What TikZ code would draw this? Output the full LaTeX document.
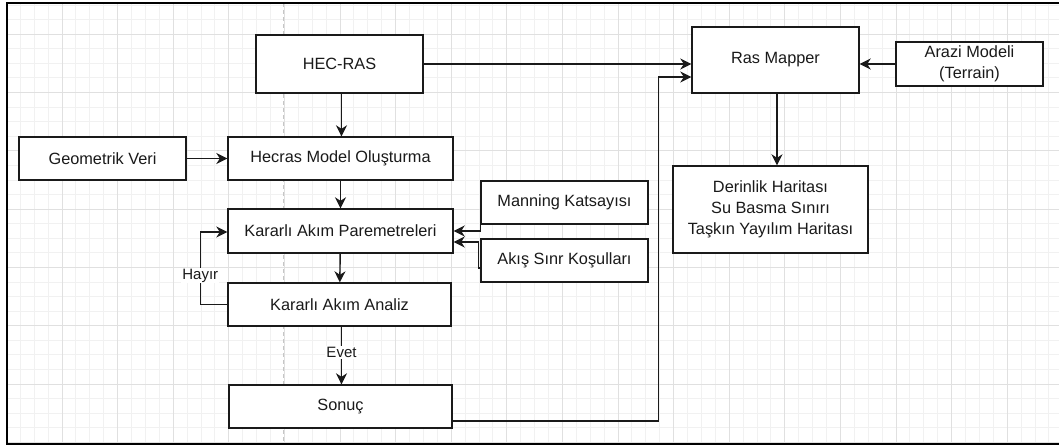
\documentclass[tikz,border=0pt]{standalone}
\usepackage{fontspec}
\setmainfont{Liberation Sans}
\usepackage{tikz}
\usetikzlibrary{positioning,arrows.meta,calc}
\definecolor{izgara}{HTML}{F1F1F1}
\definecolor{anaizgara}{HTML}{E0E0E0}
\definecolor{cizgi}{HTML}{1A1A1A}

\begin{document}
\begin{tikzpicture}[x=1pt,y=-1pt,
    kutu/.style={draw=cizgi,line width=1.4pt,fill=white,align=center,inner sep=0pt,
        text=cizgi,font=\fontsize{16.3pt}{21pt}\selectfont},
    ok/.style={-{Stealth[length=11pt,width=11pt,inset=3.5pt]},line width=1.4pt,draw=cizgi},
    etiket/.style={fill=white,inner sep=1pt,text=cizgi,font=\fontsize{15pt}{18pt}\selectfont}]
    \useasboundingbox (0,0) rectangle (1059,447);
    % Arka plan
    \fill[white] (0,0) rectangle (1059,447);
    \foreach \i in {0,...,75}
        \draw[izgara,line width=0.8pt] ({6.3+13.9*\i},3) -- ({6.3+13.9*\i},444);
    \foreach \j in {0,...,30}
        \draw[izgara,line width=0.8pt] (7,{4.94+14.58*\j}) -- (1059,{4.94+14.58*\j});
    \foreach \i in {0,...,18}
        \draw[anaizgara,line width=0.8pt] ({6.3+55.6*\i},3) -- ({6.3+55.6*\i},444);
    \foreach \j in {0,...,7}
        \draw[anaizgara,line width=0.8pt] (7,{34.1+58.3*\j}) -- (1059,{34.1+58.3*\j});
    \draw[gray!45,line width=0.8pt,dash pattern=on 4pt off 3pt] (283.5,3) -- (283.5,444);
    \draw[black,line width=1.8pt] (7,3) rectangle (1062,444);

    % Kutular
    \node[kutu,minimum width=167pt,minimum height=58pt] (hecras) at (339.5,64) {HEC-RAS};
    \node[kutu,minimum width=167pt,minimum height=43pt] (geo) at (102.5,158.5) {Geometrik Veri};
    \node[kutu,minimum width=225pt,minimum height=43pt] (model) at (340.5,158.5) {Hecras Model Oluşturma};
    \node[kutu,minimum width=225pt,minimum height=44pt] (param) at (340.5,231) {Kararlı Akım Paremetreleri};
    \node[kutu,minimum width=223pt,minimum height=43pt] (analiz) at (339.5,304.5) {Kararlı Akım Analiz};
    \node[kutu,minimum width=223pt,minimum height=43pt] (sonuc) at (340.5,406.5) {Sonuç};
    \node[kutu,minimum width=167pt,minimum height=43pt] (manning) at (564.5,202.5) {Manning Katsayısı};
    \node[kutu,minimum width=167pt,minimum height=43pt] (akis) at (564.5,260.5) {Akış Sınr Koşulları};
    \node[kutu,minimum width=167pt,minimum height=66pt] (mapper) at (775.5,60) {Ras Mapper};
    \node[kutu,minimum width=147pt,minimum height=44pt] (arazi) at (969.5,64) {Arazi Modeli\\(Terrain)};
    \node[kutu,minimum width=195pt,minimum height=87pt] (harita) at (770.5,209.5)
        {Derinlik Haritası\\Su Basma Sınırı\\Taşkın Yayılım Haritası};

    % Bağlantılar
    \draw[ok] (hecras.east) -- (hecras.east -| mapper.west);
    \draw[ok] ([yshift=-14.5pt]sonuc.east) -| ([xshift=-33pt,yshift=-17pt]mapper.west)
        -- ([yshift=-17pt]mapper.west);
    \draw[ok] (arazi.west) -- (arazi.west -| mapper.east);
    \draw[ok] ([xshift=1.5pt]mapper.south) -- ([xshift=1.5pt]mapper.south |- harita.north);
    \draw[ok] ([xshift=2pt]hecras.south) -- ([xshift=2pt]hecras.south |- model.north);
    \draw[ok] (geo) -- (model);
    \draw[ok] (model) -- (param);
    \draw[ok] (param) -- (analiz);
    \draw[ok] (manning.south west) |- (param.east);
    \draw[ok] ([yshift=-7.5pt]akis.west) -- ++(-2,0) |- ([yshift=-11pt]param.east);
    \draw[ok] (analiz.west) -- ++(-27,0) |- node[etiket,pos=0.2] {Hayır} ([yshift=-1pt]param.west);
    \draw[ok] ([xshift=2pt]analiz.south) -- node[etiket,pos=0.45] {Evet} ([xshift=2pt]analiz.south |- sonuc.north);
\end{tikzpicture}
\end{document}
